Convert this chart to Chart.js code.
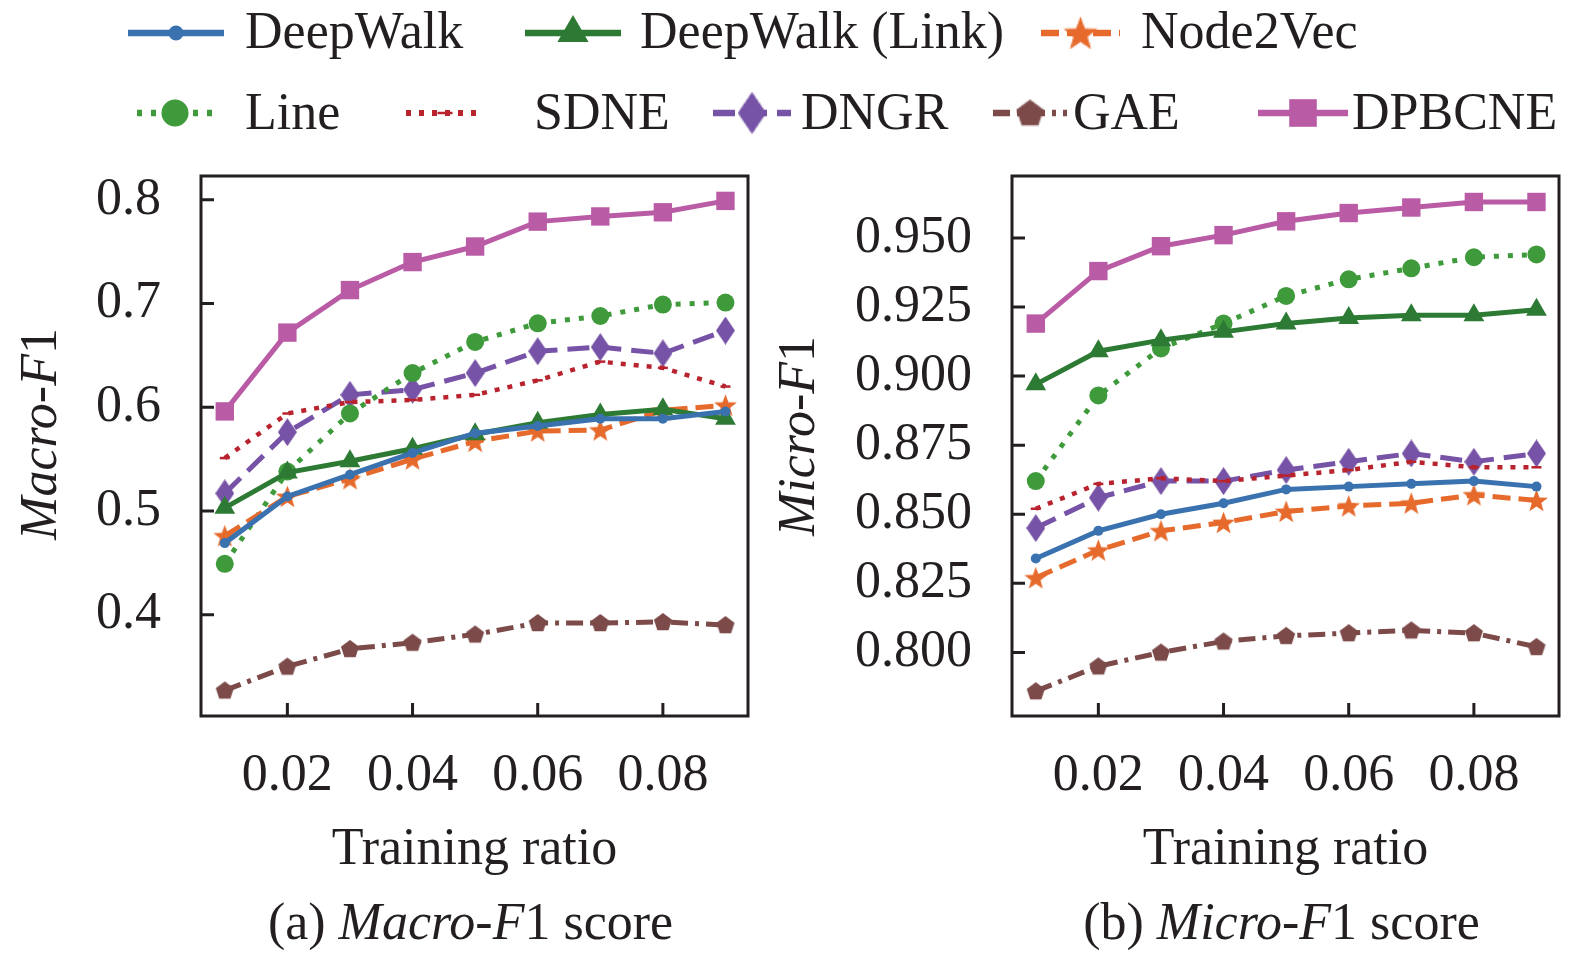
<!DOCTYPE html>
<html>
<head>
<meta charset="utf-8">
<title>Macro-F1 / Micro-F1 vs training ratio</title>
<script src="https://cdn.jsdelivr.net/npm/chart.js@4.4.1/dist/chart.umd.min.js"></script>
<style>
    html, body { margin: 0; padding: 0; background: #fff; }
    body {
        width: 1575px; height: 963px; position: relative; overflow: hidden;
        font-family: "Liberation Serif", "Times New Roman", serif; color: #231f20;
    }
    canvas.chart { position: absolute; top: 150px; }
    #macroChart { left: 0; }
    #microChart { left: 760px; }
    .legend-icon { position: absolute; }
    .legend-text { position: absolute; font-size: 52px; line-height: 52px; white-space: nowrap; }
</style>
</head>
<body>
<div id="legend"></div>
<canvas id="macroChart" class="chart" width="780" height="813"></canvas>
<canvas id="microChart" class="chart" width="815" height="813"></canvas>
<script>
// x values and tick marks
const trainingRatios = [0.01, 0.02, 0.03, 0.04, 0.05, 0.06, 0.07, 0.08, 0.09];
const xTickValues = [0.02, 0.04, 0.06, 0.08];
const macroTickValues = [0.4, 0.5, 0.6, 0.7, 0.8];
const microTickValues = [0.800, 0.825, 0.850, 0.875, 0.900, 0.925, 0.950];

const seriesNames = ['DeepWalk', 'DeepWalk (Link)', 'Node2Vec', 'Line', 'SDNE', 'DNGR', 'GAE', 'DPBCNE'];

// (a) Macro-F1
const deepWalkMacro = [0.469, 0.514, 0.535, 0.556, 0.575, 0.582, 0.589, 0.589, 0.596];
const deepWalkLinkMacro = [0.503, 0.537, 0.548, 0.560, 0.574, 0.585, 0.593, 0.598, 0.589];
const node2vecMacro = [0.476, 0.514, 0.531, 0.550, 0.567, 0.577, 0.578, 0.597, 0.602];
const lineMacro = [0.449, 0.538, 0.594, 0.633, 0.663, 0.681, 0.688, 0.699, 0.701];
const sdneMacro = [0.551, 0.594, 0.605, 0.607, 0.612, 0.626, 0.644, 0.638, 0.620];
const dngrMacro = [0.517, 0.576, 0.612, 0.617, 0.633, 0.654, 0.658, 0.652, 0.674];
const gaeMacro = [0.327, 0.350, 0.367, 0.373, 0.381, 0.392, 0.392, 0.393, 0.390];
const dpbcneMacro = [0.596, 0.672, 0.713, 0.740, 0.755, 0.779, 0.784, 0.788, 0.799];

// (b) Micro-F1
const deepWalkMicro = [0.834, 0.844, 0.850, 0.854, 0.859, 0.860, 0.861, 0.862, 0.860];
const deepWalkLinkMicro = [0.897, 0.909, 0.913, 0.916, 0.919, 0.921, 0.922, 0.922, 0.924];
const node2vecMicro = [0.827, 0.837, 0.844, 0.847, 0.851, 0.853, 0.854, 0.857, 0.855];
const lineMicro = [0.862, 0.893, 0.910, 0.919, 0.929, 0.935, 0.939, 0.943, 0.944];
const sdneMicro = [0.852, 0.861, 0.863, 0.862, 0.864, 0.866, 0.869, 0.867, 0.867];
const dngrMicro = [0.845, 0.856, 0.862, 0.862, 0.866, 0.869, 0.872, 0.869, 0.872];
const gaeMicro = [0.786, 0.795, 0.800, 0.804, 0.806, 0.807, 0.808, 0.807, 0.802];
const dpbcneMicro = [0.919, 0.938, 0.947, 0.951, 0.956, 0.959, 0.961, 0.963, 0.963];

const macroSeries = [deepWalkMacro, deepWalkLinkMacro, node2vecMacro, lineMacro, sdneMacro, dngrMacro, gaeMacro, dpbcneMacro];
const microSeries = [deepWalkMicro, deepWalkLinkMicro, node2vecMicro, lineMicro, sdneMicro, dngrMicro, gaeMicro, dpbcneMicro];

const FONT = '"Liberation Serif", "Times New Roman", serif';
const FONT_SIZE = 52;
const INK = '#231f20';

function makeMarker(w, h, color, points) {
    const c = document.createElement('canvas');
    c.width = w;
    c.height = h;
    const g = c.getContext('2d');
    g.fillStyle = color;
    g.beginPath();
    points.forEach(([px, py], i) => (i ? g.lineTo(px, py) : g.moveTo(px, py)));
    g.closePath();
    g.fill();
    return c;
}

function polygon(cx, cy, count, outer, inner) {
    const pts = [];
    const steps = inner ? count * 2 : count;
    for (let i = 0; i < steps; i++) {
        const r = inner && i % 2 ? inner : outer;
        const a = -Math.PI / 2 + i * (2 * Math.PI / steps);
        pts.push([cx + r * Math.cos(a), cy + r * Math.sin(a)]);
    }
    return pts;
}

const colors = {
    deepWalk: '#3a72b0',
    deepWalkLink: '#2d7a34',
    node2vec: '#e66a2c',
    line: '#3e9a3a',
    sdne: '#b8232e',
    dngr: '#7653a6',
    gae: '#7b4a49',
    dpbcne: '#b95ba5'
};

const starMarker = makeMarker(25, 25, colors.node2vec, polygon(12.5, 13.5, 5, 12, 5));
const pentagonMarker = makeMarker(20, 20, colors.gae, polygon(10, 10.6, 5, 9.5));
const diamondMarker = makeMarker(19, 28, colors.dngr, [[9.5, 0], [19, 14], [9.5, 28], [0, 14]]);

const seriesStyles = [
    { color: colors.deepWalk, dash: [], width: 5, point: 'circle', radius: 5, pointBorder: 0 },
    { color: colors.deepWalkLink, dash: [], width: 5, point: 'triangle', radius: 12, pointBorder: 0 },
    { color: colors.node2vec, dash: [18, 8], width: 5, point: starMarker, radius: 12, pointBorder: 0 },
    { color: colors.line, dash: [5, 9], width: 5, point: 'circle', radius: 9, pointBorder: 0 },
    { color: colors.sdne, dash: [5, 8], width: 4.5, point: 'line', radius: 5, pointBorder: 2.5 },
    { color: colors.dngr, dash: [22, 10], width: 5, point: diamondMarker, radius: 12, pointBorder: 0 },
    { color: colors.gae, dash: [17, 7, 4, 7], width: 5, point: pentagonMarker, radius: 10, pointBorder: 0 },
    { color: colors.dpbcne, dash: [], width: 5, point: 'rect', radius: 13, pointBorder: 0 }
];

function buildDatasets(seriesList) {
    return seriesList.map((values, i) => {
        const s = seriesStyles[i];
        return {
            label: seriesNames[i],
            data: values.map((v, j) => ({ x: trainingRatios[j], y: v })),
            borderColor: s.color,
            backgroundColor: s.color,
            borderWidth: s.width,
            borderDash: s.dash,
            pointStyle: s.point,
            pointRadius: s.radius,
            pointBackgroundColor: s.color,
            pointBorderColor: s.color,
            pointBorderWidth: s.pointBorder,
            tension: 0,
            fill: false,
            clip: false
        };
    });
}

function drawRichText(ctx, parts, cx, cy, rotation) {
    ctx.save();
    ctx.translate(cx, cy);
    ctx.rotate(rotation || 0);
    ctx.textBaseline = 'middle';
    ctx.textAlign = 'left';
    ctx.fillStyle = INK;
    const fonts = parts.map((p) => `${p.italic ? 'italic ' : ''}${FONT_SIZE}px ${FONT}`);
    const widths = parts.map((p, i) => {
        ctx.font = fonts[i];
        return ctx.measureText(p.text).width;
    });
    let x = -widths.reduce((a, b) => a + b, 0) / 2;
    parts.forEach((p, i) => {
        ctx.font = fonts[i];
        ctx.fillText(p.text, x, 0);
        x += widths[i];
    });
    ctx.restore();
}

// Frame, inward ticks and the mixed-style titles.
const figureFramePlugin = {
    id: 'figureFrame',
    afterDraw(chart, args, opts) {
        const { ctx, chartArea: area } = chart;
        const xScale = chart.scales.x;
        const yScale = chart.scales.y;

        ctx.save();
        ctx.strokeStyle = INK;
        ctx.lineWidth = 3;
        ctx.lineCap = 'butt';
        ctx.beginPath();
        xScale.ticks.forEach((t) => {
            const px = xScale.getPixelForValue(t.value);
            ctx.moveTo(px, area.bottom);
            ctx.lineTo(px, area.bottom - 13);
        });
        yScale.ticks.forEach((t) => {
            const py = yScale.getPixelForValue(t.value);
            ctx.moveTo(area.left, py);
            ctx.lineTo(area.left + 13, py);
        });
        ctx.stroke();
        ctx.lineJoin = 'miter';
        ctx.strokeRect(area.left, area.top, area.right - area.left, area.bottom - area.top);
        ctx.restore();

        const midX = (area.left + area.right) / 2;
        drawRichText(ctx, opts.yTitle, opts.yTitleX, opts.yTitleY, -Math.PI / 2);
        drawRichText(ctx, [{ text: 'Training ratio' }], midX, opts.xTitleY);
        drawRichText(ctx, opts.caption, midX - 4, opts.captionY);
    }
};

function makeChart(canvasId, seriesList, yMin, yMax, yTicks, decimals, frame) {
    const ctx = document.getElementById(canvasId).getContext('2d');
    return new Chart(ctx, {
        type: 'line',
        data: { datasets: buildDatasets(seriesList) },
        options: {
            responsive: false,
            animation: false,
            devicePixelRatio: 1,
            events: [],
            layout: { padding: { top: 26, right: frame.padRight, left: 0, bottom: 0 } },
            scales: {
                x: {
                    type: 'linear',
                    min: 0.0062,
                    max: 0.0936,
                    afterBuildTicks: (scale) => { scale.ticks = xTickValues.map((v) => ({ value: v })); },
                    afterFit: (scale) => {
                        scale.height = 247;
                        scale.paddingLeft = 0;
                        scale.paddingRight = 0;
                    },
                    grid: { display: false, drawTicks: false },
                    border: { display: false },
                    ticks: {
                        padding: 29,
                        color: INK,
                        maxRotation: 0,
                        font: { family: FONT, size: FONT_SIZE, lineHeight: 1.2 },
                        callback: (value) => value.toFixed(2)
                    }
                },
                y: {
                    type: 'linear',
                    min: yMin,
                    max: yMax,
                    afterBuildTicks: (scale) => { scale.ticks = yTicks.map((v) => ({ value: v })); },
                    afterFit: (scale) => {
                        scale.width = frame.yWidth;
                        scale.paddingTop = 0;
                        scale.paddingBottom = 0;
                    },
                    grid: { display: false, drawTicks: false },
                    border: { display: false },
                    ticks: {
                        padding: 40,
                        color: INK,
                        font: { family: FONT, size: FONT_SIZE, lineHeight: 1.2 },
                        callback: (value) => value.toFixed(decimals)
                    }
                }
            },
            plugins: {
                legend: { display: false },
                tooltip: { enabled: false },
                figureFrame: frame
            }
        },
        plugins: [figureFramePlugin]
    });
}

makeChart('macroChart', macroSeries, 0.3023, 0.823, macroTickValues, 1, {
    padRight: 32,
    yWidth: 201,
    yTitle: [{ text: 'Macro-F', italic: true }, { text: '1' }],
    yTitleX: 42,
    yTitleY: 284,
    xTitleY: 700,
    caption: [{ text: '(a) ' }, { text: 'Macro-F', italic: true }, { text: '1 score' }],
    captionY: 775
});

makeChart('microChart', microSeries, 0.777, 0.9724, microTickValues, 3, {
    padRight: 16,
    yWidth: 252,
    yTitle: [{ text: 'Micro-F', italic: true }, { text: '1' }],
    yTitleX: 40,
    yTitleY: 286,
    xTitleY: 700,
    caption: [{ text: '(b) ' }, { text: 'Micro-F', italic: true }, { text: '1 score' }],
    captionY: 775
});

// Shared legend above both panels
const legendLayout = [
    { row: 0, iconLeft: 128, iconWidth: 96, textLeft: 245 },
    { row: 0, iconLeft: 525, iconWidth: 96, textLeft: 640 },
    { row: 0, iconLeft: 1041, iconWidth: 79, textLeft: 1141 },
    { row: 1, iconLeft: 137, iconWidth: 76, textLeft: 245 },
    { row: 1, iconLeft: 406, iconWidth: 78, textLeft: 534 },
    { row: 1, iconLeft: 713, iconWidth: 78, textLeft: 801 },
    { row: 1, iconLeft: 993, iconWidth: 74, textLeft: 1073 },
    { row: 1, iconLeft: 1258, iconWidth: 90, textLeft: 1352 }
];
const legendRowCenter = [33, 113];
const legendRowTextTop = [5, 86];
const legendMarkerScale = 1.5;

const legendEl = document.getElementById('legend');
legendLayout.forEach((item, i) => {
    const s = seriesStyles[i];
    const icon = document.createElement('canvas');
    icon.className = 'legend-icon';
    icon.width = item.iconWidth;
    icon.height = 50;
    icon.style.left = item.iconLeft + 'px';
    icon.style.top = (legendRowCenter[item.row] - 25) + 'px';
    const g = icon.getContext('2d');
    const cx = item.iconWidth / 2;
    g.strokeStyle = s.color;
    g.lineWidth = s.width + 1.5;
    g.setLineDash(s.dash);
    g.beginPath();
    g.moveTo(0, 25);
    g.lineTo(item.iconWidth, 25);
    g.stroke();
    g.setLineDash([]);
    g.fillStyle = s.color;
    g.strokeStyle = s.color;
    if (s.point instanceof HTMLCanvasElement) {
        const w = s.point.width * legendMarkerScale;
        const h = s.point.height * legendMarkerScale;
        g.drawImage(s.point, cx - w / 2, 25 - h / 2, w, h);
    } else {
        g.lineWidth = s.pointBorder;
        Chart.helpers.drawPoint(g, {
            pointStyle: s.point,
            radius: s.radius * legendMarkerScale,
            borderWidth: s.pointBorder,
            rotation: 0
        }, cx, 25);
    }
    legendEl.appendChild(icon);

    const label = document.createElement('span');
    label.className = 'legend-text';
    label.textContent = seriesNames[i];
    label.style.left = item.textLeft + 'px';
    label.style.top = legendRowTextTop[item.row] + 'px';
    legendEl.appendChild(label);
});
</script>
</body>
</html>
